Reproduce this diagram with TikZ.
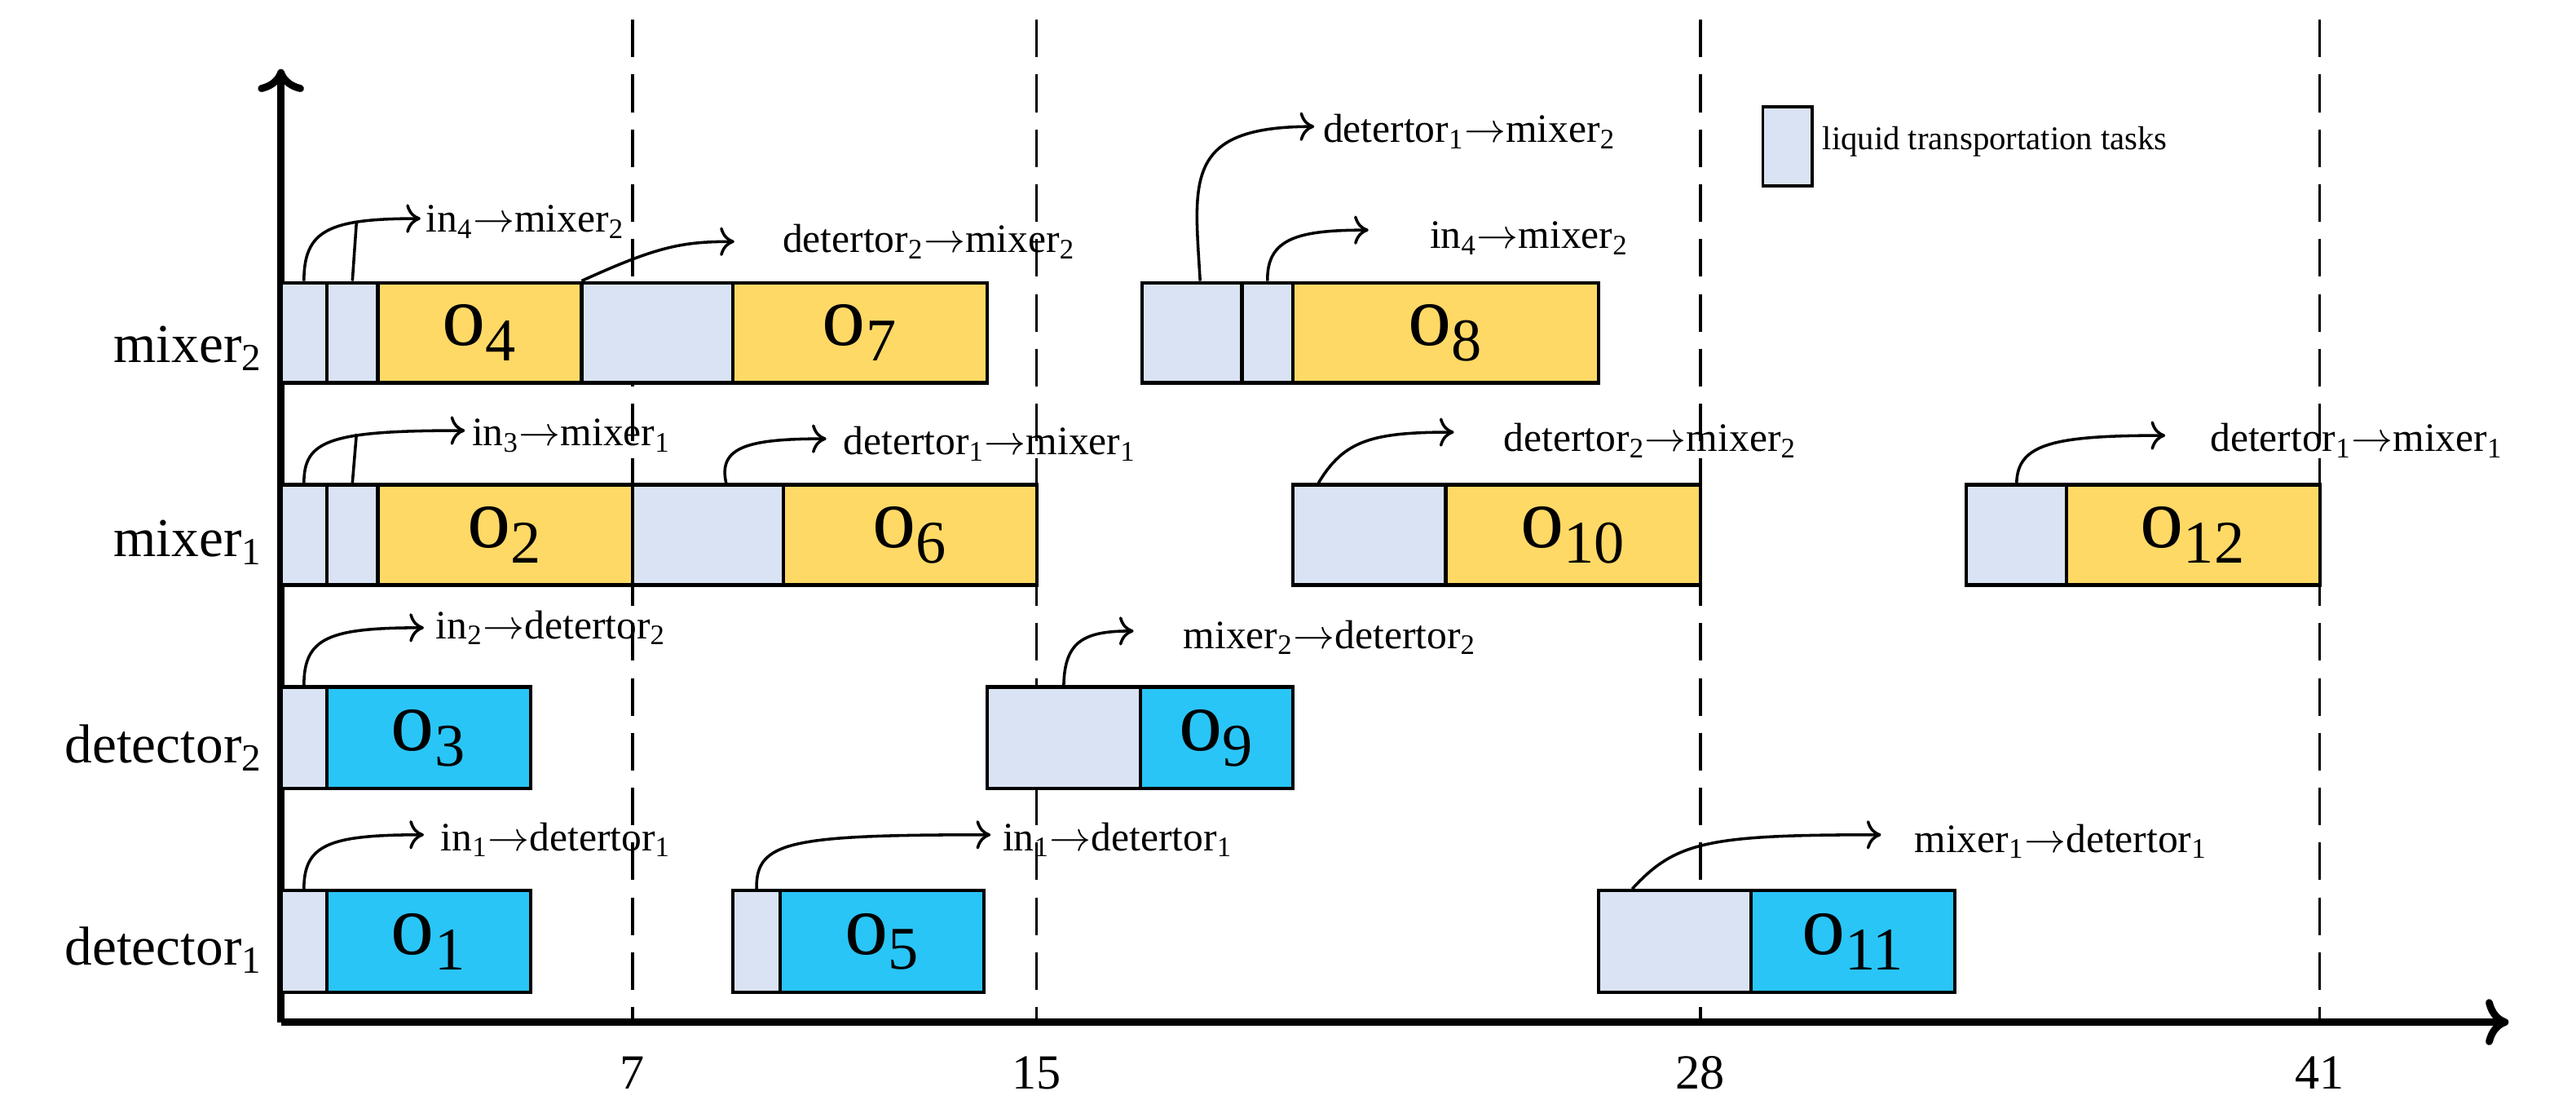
\documentclass[tikz,border=0pt]{standalone}
\usepackage{fontspec}
\setmainfont{Liberation Serif}
\usetikzlibrary{arrows.meta}
\definecolor{lb}{HTML}{DAE3F3}
\definecolor{yl}{HTML}{FFD966}
\definecolor{cy}{HTML}{29C5F6}
\tikzset{
 box/.style={draw=black,line width=1.2pt,inner sep=0pt,font=\fontsize{30}{30}\selectfont},
 tr/.style={box,fill=lb},
 op/.style={box,fill=yl},
 dt/.style={box,fill=cy},
 arr/.style={line width=1pt,-{To[length=5pt,width=10pt]}},
 lab/.style={anchor=west,font=\fontsize{14}{14}\selectfont,inner sep=0pt},
 row/.style={anchor=east,font=\fontsize{19}{19}\selectfont,inner sep=0pt},
 tick/.style={font=\fontsize{17}{17}\selectfont},
 dsh/.style={line width=1pt,dash pattern=on 13pt off 6pt},
}
\newcommand{\tsk}[6]{\node[#5,minimum width={(#3-#2)*0.02cm},minimum height={(#4)*0.02cm}] (#1) at ({(#2+#3)/2},{#6}) {};}
\newcommand{\sub}[1]{\textsubscript{#1}}
\begin{document}
\begin{tikzpicture}[x=0.02cm,y=-0.02cm]
\useasboundingbox (0,0) rectangle (1568,677);
% dashed lines
\foreach \x/\t [count=\i] in {385/7,631/15,1035/28,1412/41}{
 \coordinate (dt\i) at (\x,12);
 \coordinate (db\i) at (\x,622);
 \draw[dsh] (dt\i) -- (db\i);
 \node[tick] (tk\i) at (\x,653) {\t};
}
% axes
\coordinate (o) at (171,622);
\coordinate (yt) at (171,42);
\coordinate (xt) at (1527,622);
\draw[line width=2.5pt,-{To[length=8pt,width=16pt]}] (o) -- (yt);
\draw[line width=2.5pt,-{To[length=8pt,width=16pt]}] (o) -- (xt);
% row labels
\node[row] (r4) at (160,212) {mixer\sub{2}};
\node[row] (r3) at (160,330) {mixer\sub{1}};
\node[row] (r2) at (160,455) {detector\sub{2}};
\node[row] (r1) at (160,578) {detector\sub{1}};
% mixer2 row
\def\yy{202.5}
\tsk{a1}{171}{199}{61}{tr}{\yy}
\tsk{a2}{199}{230}{61}{tr}{\yy}
\tsk{a3}{230}{354}{61}{op}{\yy} \node at (a3) {\fontsize{30}{30}\selectfont o\sub{4}};
\tsk{a4}{354}{446}{61}{tr}{\yy}
\tsk{a5}{446}{601}{61}{op}{\yy} \node at (a5) {\fontsize{30}{30}\selectfont o\sub{7}};
\tsk{a6}{695}{756}{61}{tr}{\yy}
\tsk{a7}{756}{787}{61}{tr}{\yy}
\tsk{a8}{787}{973}{61}{op}{\yy} \node at (a8) {\fontsize{30}{30}\selectfont o\sub{8}};
% mixer1 row
\def\yy{325.5}
\tsk{b1}{171}{199}{61}{tr}{\yy}
\tsk{b2}{199}{230}{61}{tr}{\yy}
\tsk{b3}{230}{385}{61}{op}{\yy} \node at (b3) {\fontsize{30}{30}\selectfont o\sub{2}};
\tsk{b4}{385}{477}{61}{tr}{\yy}
\tsk{b5}{477}{631}{61}{op}{\yy} \node at (b5) {\fontsize{30}{30}\selectfont o\sub{6}};
\tsk{b6}{787}{880}{61}{tr}{\yy}
\tsk{b7}{880}{1035}{61}{op}{\yy} \node at (b7) {\fontsize{30}{30}\selectfont o\sub{10}};
\tsk{b8}{1197}{1258}{61}{tr}{\yy}
\tsk{b9}{1258}{1412}{61}{op}{\yy} \node at (b9) {\fontsize{30}{30}\selectfont o\sub{12}};
% detector2 row
\def\yy{449}
\tsk{c1}{171}{199}{62}{tr}{\yy}
\tsk{c2}{199}{323}{62}{dt}{\yy} \node at (c2) {\fontsize{30}{30}\selectfont o\sub{3}};
\tsk{c3}{601}{694}{62}{tr}{\yy}
\tsk{c4}{694}{787}{62}{dt}{\yy} \node at (c4) {\fontsize{30}{30}\selectfont o\sub{9}};
% detector1 row
\def\yy{573}
\tsk{d1}{171}{199}{62}{tr}{\yy}
\tsk{d2}{199}{323}{62}{dt}{\yy} \node at (d2) {\fontsize{30}{30}\selectfont o\sub{1}};
\tsk{d3}{446}{475}{62}{tr}{\yy}
\tsk{d4}{475}{599}{62}{dt}{\yy} \node at (d4) {\fontsize{30}{30}\selectfont o\sub{5}};
\tsk{d5}{973}{1066}{62}{tr}{\yy}
\tsk{d6}{1066}{1190}{62}{dt}{\yy} \node at (d6) {\fontsize{30}{30}\selectfont o\sub{11}};
% arrows and labels
\coordinate (e1) at (256,133);
\draw[arr] (a1.north) .. controls (185,140) and (200,133) .. (e1);
\draw[line width=1pt] (a2.north) -- (217,135);
\node[lab] (l1) at (259,135) {in\sub{4}$\rightarrow$mixer\sub{2}};
\coordinate (e2) at (447,147);
\draw[arr] ([xshift=-0.92cm]a4.north) .. controls (400,150) and (415,147) .. (e2);
\node[lab] (l2) at (476,147) {detertor\sub{2}$\rightarrow$mixer\sub{2}};
\coordinate (e3) at (800,77);
\draw[arr] ([xshift=0.1cm]a6.north) .. controls (727,110) and (720,77) .. (e3);
\node[lab] (l3) at (805,80) {detertor\sub{1}$\rightarrow$mixer\sub{2}};
\coordinate (e4) at (833,140);
\draw[arr] (a7.north) .. controls (771,145) and (790,140) .. (e4);
\node[lab] (l4) at (870,145) {in\sub{4}$\rightarrow$mixer\sub{2}};
\coordinate (e5) at (283,262);
\draw[arr] (b1.north) .. controls (185,268) and (200,262) .. (e5);
\draw[line width=1pt] (b2.north) -- (217,264);
\node[lab] (l5) at (287,265) {in\sub{3}$\rightarrow$mixer\sub{1}};
\coordinate (e6) at (503,267);
\draw[arr] ([xshift=0.22cm]b4.north) .. controls (437,272) and (455,267) .. (e6);
\node[lab] (l6) at (513,270) {detertor\sub{1}$\rightarrow$mixer\sub{1}};
\coordinate (e7) at (885,263);
\draw[arr] ([xshift=-0.62cm]b6.north) .. controls (818,268) and (835,263) .. (e7);
\node[lab] (l7) at (915,268) {detertor\sub{2}$\rightarrow$mixer\sub{2}};
\coordinate (e8) at (1318,265);
\draw[arr] (b8.north) .. controls (1228,270) and (1250,265) .. (e8);
\node[lab] (l8) at (1345,268) {detertor\sub{1}$\rightarrow$mixer\sub{1}};
\coordinate (e9) at (258,382);
\draw[arr] (c1.north) .. controls (185,388) and (200,382) .. (e9);
\node[lab] (l9) at (265,382) {in\sub{2}$\rightarrow$detertor\sub{2}};
\coordinate (e10) at (690,384);
\draw[arr] (c3.north) .. controls (648,390) and (660,384) .. (e10);
\node[lab] (l10) at (720,388) {mixer\sub{2}$\rightarrow$detertor\sub{2}};
\coordinate (e11) at (258,508);
\draw[arr] (d1.north) .. controls (185,514) and (200,508) .. (e11);
\node[lab] (l11) at (268,511) {in\sub{1}$\rightarrow$detertor\sub{1}};
\coordinate (e12) at (603,508);
\draw[arr] (d3.north) .. controls (460,512) and (480,508) .. (e12);
\node[lab] (l12) at (610,511) {in\sub{1}$\rightarrow$detertor\sub{1}};
\coordinate (e13) at (1145,508);
\draw[arr] ([xshift=-0.52cm]d5.north) .. controls (1020,512) and (1040,508) .. (e13);
\node[lab] (l13) at (1165,512) {mixer\sub{1}$\rightarrow$detertor\sub{1}};
% legend
\node[tr,minimum width=0.6cm,minimum height=0.96cm,line width=1pt] (lg) at (1088,89) {};
\node[lab,font=\fontsize{11.5}{12}\selectfont] (lgt) at (1109,86) {liquid transportation tasks};
\end{tikzpicture}
\end{document}
